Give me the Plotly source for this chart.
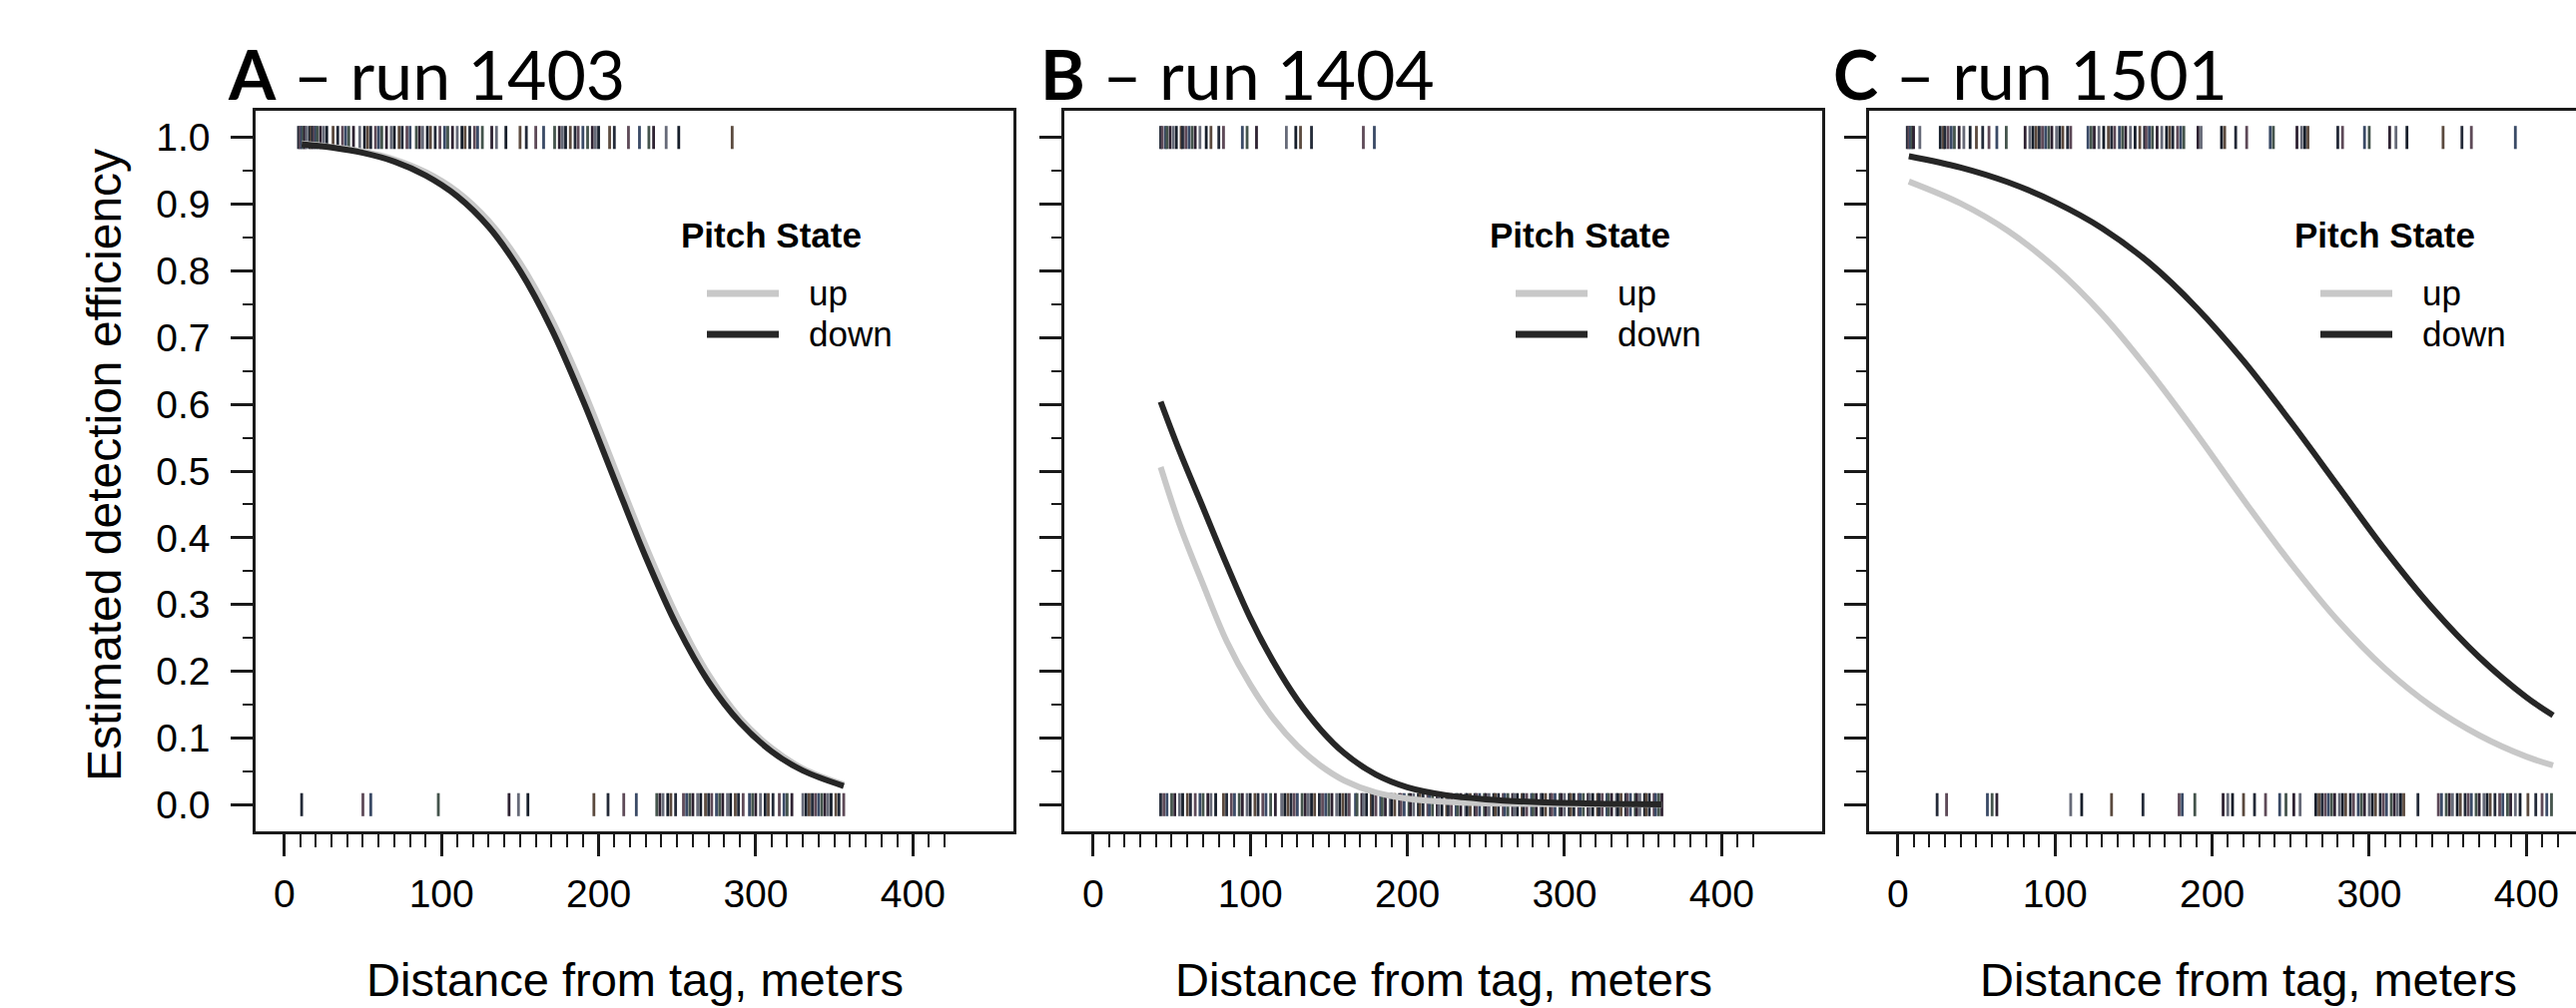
import plotly.graph_objects as go

# ---------------- data ----------------
panel_titles = ["<b>A</b> \u2013 run 1403", "<b>B</b> \u2013 run 1404", "<b>C</b> \u2013 run 1501"]
series_names = ["up", "down"]
x_label = "Distance from tag, meters"
y_label = "Estimated detection efficiency"
legend_title = "Pitch State"

x_tick_vals = [0, 100, 200, 300, 400]
y_tick_vals = [0.0, 0.1, 0.2, 0.3, 0.4, 0.5, 0.6, 0.7, 0.8, 0.9, 1.0]
y_tick_text = ["0.0", "0.1", "0.2", "0.3", "0.4", "0.5", "0.6", "0.7", "0.8", "0.9", "1.0"]

# Panel A - run 1403
a_x = [11, 30, 50, 70, 90, 110, 130, 150, 170, 190, 210, 230, 250, 270, 290, 310, 330, 356]
a_down = [0.990, 0.985, 0.977, 0.964, 0.943, 0.912, 0.866, 0.800, 0.713, 0.606, 0.488, 0.371, 0.267, 0.184, 0.123, 0.080, 0.051, 0.028]
a_up = [0.991, 0.986, 0.979, 0.967, 0.948, 0.919, 0.875, 0.812, 0.728, 0.624, 0.506, 0.388, 0.282, 0.195, 0.130, 0.085, 0.054, 0.030]
a_rug_det = [9, 10, 11, 12, 13, 14, 16, 17, 18, 19, 20, 21, 23, 25, 27, 31, 34, 37, 39, 41, 44, 48, 51, 53,
             55, 58, 60, 62, 65, 68, 70, 73, 75, 78, 80, 84, 86, 88, 91, 93, 96, 99, 102, 104, 107, 110,
             113, 115, 118, 121, 123, 126, 132, 135, 141, 150, 154, 160, 165, 172, 175, 177, 179, 182,
             185, 187, 190, 193, 196, 198, 200, 207, 210, 219, 226, 232, 235, 243, 251, 285]
a_rug_miss = [11, 50, 55, 98, 143, 149, 155, 197, 206, 216, 224, 237, 239, 241, 244, 246, 249, 254, 256,
              258, 260, 263, 265, 268, 270, 272, 275, 277, 279, 282, 284, 287, 289, 292, 296, 298, 300,
              303, 306, 308, 311, 315, 318, 320, 323, 330, 332, 334, 336, 338, 340, 342, 344, 346, 348,
              351, 353, 356]

# Panel B - run 1404
b_x = [43, 55, 70, 85, 100, 115, 130, 145, 160, 180, 200, 225, 250, 280, 320, 362]
b_down = [0.604, 0.530, 0.445, 0.360, 0.280, 0.213, 0.157, 0.112, 0.077, 0.045, 0.026, 0.014, 0.008, 0.004, 0.0015, 0.0005]
b_up = [0.506, 0.420, 0.330, 0.245, 0.180, 0.128, 0.088, 0.058, 0.036, 0.018, 0.009, 0.004, 0.002, 0.001, 0.0003, 0.0001]
b_rug_det = [43, 44, 46, 47, 49, 51, 53, 56, 57, 59, 61, 63, 65, 68, 72, 75, 80, 83, 95, 98, 104,
             123, 129, 132, 139, 172, 179]
b_rug_miss = [43, 45, 47, 50, 52, 55, 57, 60, 62, 65, 68, 70, 73, 75, 78, 83, 85, 88, 90, 93, 95, 98,
              100, 103, 105, 108, 110, 113, 116, 120, 122, 124, 126, 128, 130, 133, 135, 137, 139, 141,
              144, 146, 148, 150, 152, 155, 157, 159, 161, 163, 167, 168, 171, 172, 174, 177, 178, 180,
              183, 184, 186, 189, 190, 192, 195, 196, 198, 201, 202, 204, 207, 208, 210, 213, 214, 216,
              219, 220, 222, 225, 226, 228, 231, 232, 234, 237, 238, 240, 243, 244, 246, 249, 250, 252,
              255, 256, 258, 261, 262, 264, 267, 268, 270, 273, 274, 276, 279, 280, 282, 285, 286, 288,
              291, 292, 294, 297, 298, 300, 303, 304, 306, 309, 310, 312, 315, 316, 318, 321, 322, 324,
              327, 328, 330, 333, 334, 336, 339, 340, 342, 345, 346, 348, 351, 352, 354, 357, 358, 360, 362]

# Panel C - run 1501
c_x = [7, 40, 70, 100, 130, 160, 190, 220, 250, 280, 310, 340, 370, 400, 417]
c_down = [0.972, 0.955, 0.933, 0.903, 0.864, 0.812, 0.745, 0.665, 0.574, 0.478, 0.382, 0.295, 0.221, 0.161, 0.134]
c_up = [0.934, 0.901, 0.860, 0.805, 0.735, 0.650, 0.556, 0.457, 0.362, 0.276, 0.204, 0.147, 0.104, 0.072, 0.059]
c_rug_det = [6, 7, 8, 9, 10, 14, 27, 29, 30, 32, 34, 36, 39, 42, 46, 50, 54, 58, 63, 69, 81, 84, 86, 88,
             90, 92, 94, 96, 98, 101, 103, 105, 108, 110, 121, 123, 125, 128, 131, 134, 136, 138, 141,
             143, 145, 148, 151, 154, 157, 158, 160, 162, 165, 168, 171, 173, 175, 178, 180, 182, 191,
             193, 206, 208, 215, 222, 237, 239, 254, 257, 259, 261, 280, 283, 297, 300, 313, 317, 324,
             347, 359, 365, 393]
c_rug_miss = [25, 31, 57, 60, 63, 110, 117, 136, 156, 179, 181, 189, 207, 210, 213, 220, 227, 234, 243,
              247, 252, 256, 266, 268, 270, 272, 274, 276, 278, 281, 283, 285, 288, 290, 293, 295, 297,
              300, 302, 304, 307, 309, 311, 314, 316, 318, 320, 322, 331, 344, 346, 349, 351, 353, 356,
              358, 361, 363, 365, 368, 370, 373, 375, 377, 380, 383, 385, 388, 390, 393, 396, 401, 406,
              410, 413, 416]

panels = [
    dict(x=a_x, up=a_up, down=a_down, det=a_rug_det, miss=a_rug_miss),
    dict(x=b_x, up=b_up, down=b_down, det=b_rug_det, miss=b_rug_miss),
    dict(x=c_x, up=c_up, down=c_down, det=c_rug_det, miss=c_rug_miss),
]

# ---------------- styling / layout constants ----------------
W, H = 2580, 1010
BOX_LEFT = [256, 1066, 1872]
TITLE_LEFT = [226, 1040, 1834]
BOX_W = 759
BOX_TOP, BOX_BOT = 111, 833
X_MIN, X_MAX = -18.3, 464.0
UNITS_PER_PX = (X_MAX - X_MIN) / BOX_W
Y_RANGE = [-0.04, 1.04]

UP_COLOR = "#c8c8c8"
DOWN_COLOR = "#262626"
RUG_COLORS = ["#232a38", "#5e4a58", "#3a4a66", "#44544c", "#2e2232", "#666a78", "#161e2a", "#5b4a3e"]
AXIS_COLOR = "#1a1a1a"
FONT = "Arial, 'Liberation Sans', sans-serif"
TITLE_FONT = "Lato, 'Open Sans', sans-serif"


def px_x(p):
    return p / W


def px_y(p):
    return 1 - p / H


fig = go.Figure()
annotations = []
shapes = []

for i, pdata in enumerate(panels):
    n = "" if i == 0 else str(i + 1)
    xa, ya = "x" + n, "y" + n
    left = BOX_LEFT[i]
    right = min(left + BOX_W, W)
    x_hi = X_MIN + (right - left) * UNITS_PER_PX

    for vals, yv in ((pdata["det"], 1.0), (pdata["miss"], 0.0)):
        cols = [RUG_COLORS[k % len(RUG_COLORS)] for k in range(len(vals))]
        fig.add_trace(go.Scatter(
            x=vals, y=[yv] * len(vals), mode="markers", xaxis=xa, yaxis=ya,
            marker=dict(symbol="line-ns-open", size=16.5, color=cols,
                        line=dict(width=2.8, color=cols)),
            showlegend=False, hoverinfo="x"))

    fig.add_trace(go.Scatter(x=pdata["x"], y=pdata["up"], mode="lines", xaxis=xa, yaxis=ya,
                             name=series_names[0], line=dict(color=UP_COLOR, width=6, shape="spline"),
                             showlegend=False))
    fig.add_trace(go.Scatter(x=pdata["x"], y=pdata["down"], mode="lines", xaxis=xa, yaxis=ya,
                             name=series_names[1], line=dict(color=DOWN_COLOR, width=6, shape="spline"),
                             showlegend=False))

    xaxis = dict(
        domain=[px_x(left), px_x(right)], range=[X_MIN, x_hi], anchor=ya,
        showline=True, linecolor=AXIS_COLOR, linewidth=2.5, mirror=True,
        showgrid=False, zeroline=False,
        tickmode="array", tickvals=x_tick_vals, ticktext=[str(v) for v in x_tick_vals],
        ticks="outside", ticklen=22, tickwidth=2.5, tickcolor=AXIS_COLOR,
        tickfont=dict(family=FONT, size=39, color="black"), ticklabelstandoff=4,
        minor=dict(tickmode="array", tickvals=list(range(0, 421, 10)), ticks="outside",
                   ticklen=13, tickwidth=2, tickcolor=AXIS_COLOR),
    )
    yaxis = dict(
        domain=[px_y(BOX_BOT), px_y(BOX_TOP)], range=Y_RANGE, anchor=xa,
        showline=True, linecolor=AXIS_COLOR, linewidth=2.5, mirror=(i < 2),
        showgrid=False, zeroline=False,
        tickmode="array", tickvals=y_tick_vals, ticktext=y_tick_text,
        showticklabels=(i == 0),
        ticks="outside", ticklen=22, tickwidth=2.5, tickcolor=AXIS_COLOR,
        tickfont=dict(family=FONT, size=39, color="black"), ticklabelstandoff=13,
        minor=dict(tickmode="array", tickvals=[v + 0.05 for v in y_tick_vals[:-1]], ticks="outside",
                   ticklen=10, tickwidth=2, tickcolor=AXIS_COLOR),
    )
    fig.update_layout({"xaxis" + n: xaxis, "yaxis" + n: yaxis})

    # panel title
    annotations.append(dict(text=panel_titles[i], xref="paper", yref="paper",
                            x=px_x(TITLE_LEFT[i]), y=px_y(74), xanchor="left", yanchor="middle",
                            showarrow=False, font=dict(family=TITLE_FONT, size=68, color="black")))
    # x axis title
    annotations.append(dict(text=x_label, xref="paper", yref="paper",
                            x=px_x(left + BOX_W / 2), y=px_y(981), xanchor="center", yanchor="middle",
                            showarrow=False, font=dict(family=FONT, size=47, color="black")))
    # legend block
    annotations.append(dict(text="<b>" + legend_title + "</b>", xref="paper", yref="paper",
                            x=px_x(left + 424), y=px_y(236), xanchor="left", yanchor="middle",
                            showarrow=False, font=dict(family=FONT, size=35, color="black")))
    for name, col, yy in ((series_names[0], UP_COLOR, 294), (series_names[1], DOWN_COLOR, 335)):
        shapes.append(dict(type="line", xref="paper", yref="paper",
                           x0=px_x(left + 452), x1=px_x(left + 524), y0=px_y(yy), y1=px_y(yy),
                           line=dict(color=col, width=7)))
        annotations.append(dict(text=name, xref="paper", yref="paper",
                                x=px_x(left + 552), y=px_y(yy - 1), xanchor="left", yanchor="middle",
                                showarrow=False, font=dict(family=FONT, size=35, color="black")))

annotations.append(dict(text=y_label, xref="paper", yref="paper", textangle=-90,
                        x=px_x(105), y=px_y((BOX_TOP + BOX_BOT) / 2 - 6), xanchor="center", yanchor="middle",
                        showarrow=False, font=dict(family=FONT, size=48, color="black")))

fig.update_layout(
    width=W, height=H, autosize=False,
    margin=dict(l=0, r=0, t=0, b=0),
    paper_bgcolor="white", plot_bgcolor="white",
    showlegend=False,
    annotations=annotations, shapes=shapes,
)

# the page's default body margin would shift the figure; remove it
fig.write_html("out.html", config={"displayModeBar": False},
               post_script="document.body.style.margin='0';document.body.style.overflow='hidden';")
